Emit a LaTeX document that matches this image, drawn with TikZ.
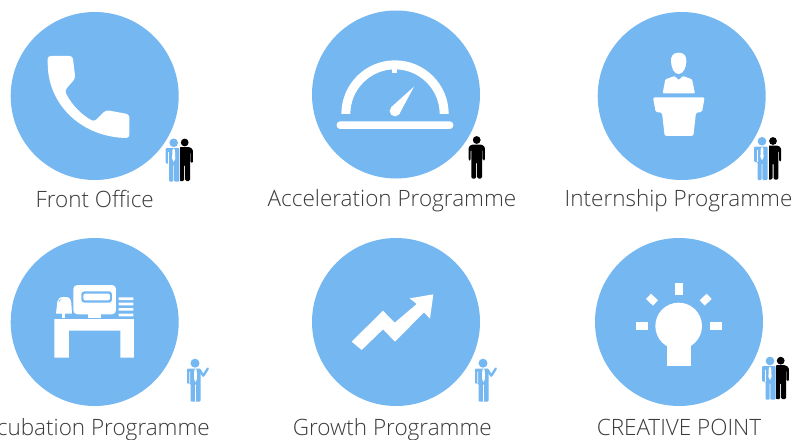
\documentclass[tikz,border=0pt]{standalone}
\usepackage{fontspec}
\setmainfont{Open Sans}[UprightFont=* Light]
\definecolor{skyb}{HTML}{75B7F1}
\definecolor{lab}{HTML}{3A3A3A}
\tikzset{
  disc/.style={circle,fill=skyb,minimum size=168pt,inner sep=0pt,outer sep=0pt},
  lbl/.style={anchor=base,text=lab,font=\fontsize{22.5}{26}\selectfont,inner sep=0pt},
  zoomed/.style={x=0.33333pt,y=-0.33333pt},
}
\newcommand{\blackman}[2]{%
  \begin{scope}[shift={(#1,#2)}]
    \fill[black] (0,4) circle (3.9);
    \fill[black,rounded corners=1.3pt] (-5,8.5) -- (5,8.5) -- (8.2,11) -- (8.2,24.5) -- (6,24.5) -- (6,13.5) -- (5.3,13.5) -- (5.3,42.5) -- (0.5,42.5) -- (0.5,26) -- (-0.5,26) -- (-0.5,42.5) -- (-5.3,42.5) -- (-5.3,13.5) -- (-6,13.5) -- (-6,24.5) -- (-8.2,24.5) -- (-8.2,11) -- cycle;
  \end{scope}}
\newcommand{\suitman}[2]{%
  \begin{scope}[shift={(#1,#2)}]
    \fill[skyb] (0,4.3) circle (4.3);
    \fill[skyb,rounded corners=1pt] (-8,9.5) -- (5.7,9.5) -- (5.7,43) -- (0.4,43) -- (0.4,26) -- (-0.4,26) -- (-0.4,43) -- (-4.5,43) -- (-4.5,25) -- (-8,25) -- cycle;
    \fill[white] (-5.3,13) rectangle (-4.7,25);
    \fill[white] (0,9.8) -- (1.2,11.5) -- (1.6,20) -- (0,23.5) -- (-1.6,20) -- (-1.2,11.5) -- cycle;
  \end{scope}}
\newcommand{\pairmen}[3]{%
  \blackman{#2}{#3}%
  \fill[white] (#2-4.3,#3) rectangle (#2-9,#3+44);%
  \suitman{#1}{#3}}
\newcommand{\pointman}[2]{%
  \begin{scope}[shift={(#1,#2)}]
    \fill[skyb] (0,4.5) circle (4.5);
    \fill[skyb,rounded corners=1pt] (-8,10) -- (5.5,10) -- (5.5,43) -- (-4.4,43) -- (-4.4,25) -- (-8,25) -- cycle;
    \draw[skyb,line width=2.3pt,line cap=round,line join=round] (4.5,11) -- (8.3,17) -- (12.8,9.8);
    \fill[white] (-5.6,13) rectangle (-5,25) (0.2,26) rectangle (0.9,43);
    \fill[white] (0.5,10.2) -- (1.7,11.5) -- (2,20) -- (0.5,23.5) -- (-1,20) -- (-0.7,11.5) -- cycle;
  \end{scope}}
\begin{document}
\begin{tikzpicture}[x=1pt,y=-1pt]
\useasboundingbox (0,0) rectangle (792,439);
\fill[white] (0,0) rectangle (792,439);
\node[disc] (c1) at (94.7,96) {};
\node[disc] (c2) at (396,94.5) {};
\node[disc] (c3) at (681.7,96) {};
\node[disc] (c4) at (94.7,322) {};
\node[disc] (c5) at (396,322) {};
\node[disc] (c6) at (679,322) {};
\node[lbl] (t1) at (94.7,207) {Front Office};
\node[lbl] (t2) at (392,206) {Acceleration Programme};
\node[lbl] (t3) at (678.5,206) {Internship Programme};
\node[lbl,anchor=base east] (t4) at (210,435) {Incubation Programme};
\node[lbl] (t5) at (392.3,435) {Growth Programme};
\node[lbl] (t6) at (679,435) {CREATIVE POINT};
% phone
\begin{scope}[zoomed]
\fill[white,rounded corners=3pt] (180,168) -- (218,168) -- (226,235) -- (194,272) .. controls (215,315) and (245,345) .. (283,365) -- (318,330) -- (388,343) -- (388,414) .. controls (250,412) and (148,320) .. (143,190) -- (143,168) -- cycle;
\end{scope}
% gauge
\begin{scope}[shift={(264,0)},zoomed]
\begin{scope}
\clip (200,150) rectangle (600,342);
\fill[white,even odd rule] (393,342) circle (161) (393,342) circle (134);
\end{scope}
\fill[white] (385,205) rectangle (400,220);
\fill[white,rounded corners=3.5pt] (218,364) rectangle (568,387);
\fill[white] (393,333) circle (16);
\fill[white] (381,322) -- (450,260) -- (406,342) -- cycle;
\end{scope}
% lectern
\begin{scope}[shift={(528,0)},zoomed]
\fill[white] (452,158) .. controls (470,158) and (476,170) .. (475,185) .. controls (474,205) and (465,222) .. (452,222) .. controls (439,222) and (430,205) .. (429,185) .. controls (428,170) and (434,158) .. (452,158) -- cycle;
\fill[white,rounded corners=1pt] (404,280) -- (412,238) -- (440,228) -- (452,240) -- (465,228) -- (492,238) -- (501,280) -- cycle;
\fill[white,rounded corners=1.5pt] (375,292) -- (530,292) -- (522,336) -- (504,338) -- (496,408) -- (410,408) -- (402,338) -- (383,336) -- cycle;
\end{scope}
% desk
\begin{scope}[shift={(0,220)},zoomed]
\fill[white] (163,297) -- (402,297) -- (402,413) -- (361,413) -- (361,332) -- (207,332) -- (207,413) -- (163,413) -- cycle;
\fill[white,rounded corners=4pt] (220,195) rectangle (348,283);
\fill[skyb,rounded corners=3pt] (244,214) rectangle (336,248);
\fill[white,rounded corners=2pt] (250,221) rectangle (330,241);
\fill[white] (265,280) rectangle (303,294);
\fill[white] (187,270) rectangle (194,294);
\fill[white] (168,281) -- (172,245) .. controls (174,236) and (180,231) .. (190,231) -- (198,231) .. controls (208,231) and (213,238) .. (214,250) -- (216,281) -- cycle;
\draw[skyb,line width=0.6pt] (177,247) -- (178,241) -- (184,238);
\fill[white] (356,232) rectangle (400,240) (356,248) rectangle (400,256) (356,264) rectangle (400,272) (356,281) rectangle (400,289);
\end{scope}
% arrow
\begin{scope}[shift={(264,220)},zoomed]
\fill[white] (263,365) -- (357,272) -- (392,308) -- (458,252) -- (437,235) -- (508,223) -- (498,296) -- (480,277) -- (393,365) -- (357,328) -- (293,390) -- cycle;
\end{scope}
% bulb
\begin{scope}[shift={(528,220)},zoomed]
\fill[white] (452,318) circle (70);
\fill[white] (417,360) rectangle (488,437);
\fill[white] (442,190) rectangle (464,224);
\fill[white] (323,307) rectangle (359,331);
\fill[white] (546,307) rectangle (582,331);
\fill[white] (354,237) -- (369,221) -- (390,241) -- (375,257) -- cycle;
\fill[white] (515,241) -- (536,221) -- (551,237) -- (530,257) -- cycle;
\end{scope}
% people
\pairmen{173.7}{184.7}{138.5}
\blackman{476.7}{136}
\pairmen{762}{773}{137}
\pointman{195}{358.7}
\pointman{483}{358.7}
\pairmen{770}{780.7}{356.7}
\end{tikzpicture}
\end{document}
